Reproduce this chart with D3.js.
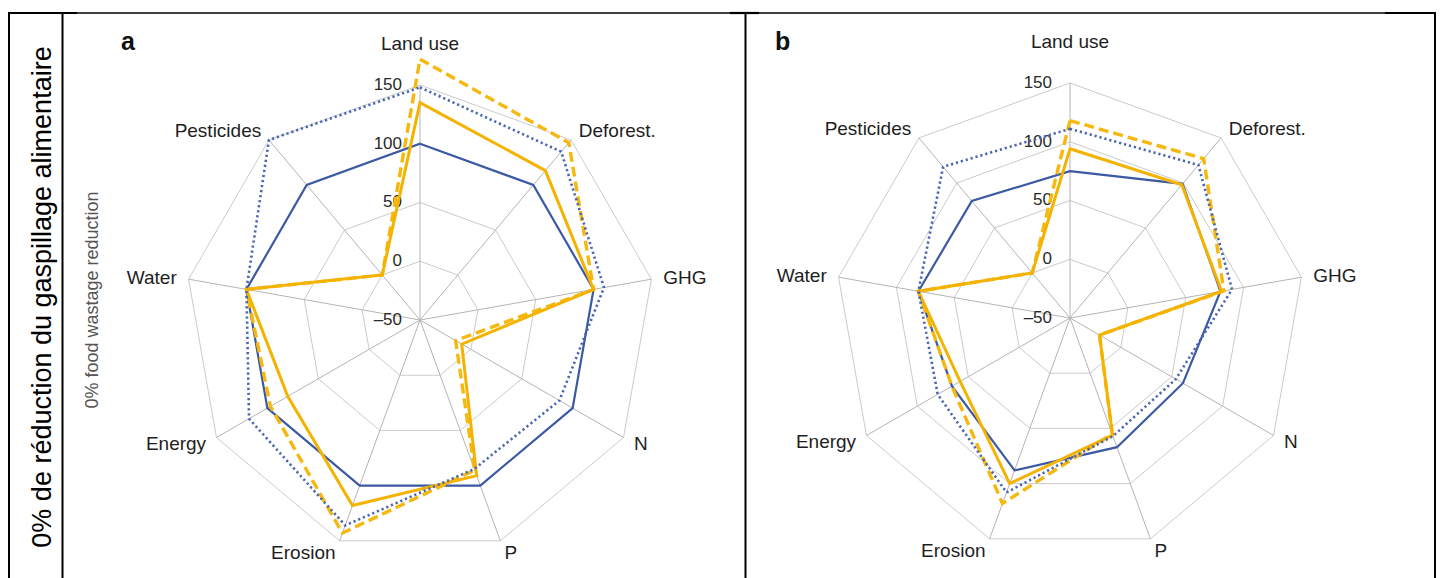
<!DOCTYPE html>
<html><head><meta charset="utf-8">
<script src="https://cdn.jsdelivr.net/npm/d3@7"></script>
<style>html,body{margin:0;padding:0;background:#fff;} svg{display:block;}</style>
</head><body>
<svg id="chart" width="1440" height="578"></svg>
<script>
// ---- data ----
const axes = ["Land use","Deforest.","GHG","N","P","Erosion","Energy","Water","Pesticides"];
const tickValues = [-50, 0, 50, 100, 150];
const tickLabels = ["\u201350", "0", "50", "100", "150"];
const ringValues = [0, 50, 100, 150];

// panel a
const blueSolidA   = [100, 100, 100, 100, 100, 100, 100, 100, 100];
const blueDottedA  = [148, 137, 109, 87, 85, 136, 118, 100, 150];
const yellowSolidA = [135, 116, 100, -9, 91, 118, 80, 100, 0];
const yellowDashedA= [172, 147, 100, -15, 86, 143, 97, 100, 0];
// panel b
const blueSolidB   = [75, 99, 80, 61, 67, 88, 66, 81, 80];
const blueDottedB  = [111, 120, 90, 54, 57, 108, 80, 81, 118];
const yellowSolidB = [94, 98, 81, -21, 56, 100, 58, 81, 0];
const yellowDashedB= [118, 127, 83, -21, 55, 118, 66, 81, 0];

const panelLetters = ["a", "b"];
const sideLabel = "0% de réduction du gaspillage alimentaire";
const yAxisTitle = "0% food wastage reduction";

// ---- drawing ----
const svg = d3.select("#chart");
const FONT = "'Liberation Sans', Arial, Helvetica, sans-serif";
const R = 235;
const r = d3.scaleLinear().domain([-50, 150]).range([0, R]);
const ang = d3.scaleLinear().domain([0, axes.length]).range([0, 2 * Math.PI]);

const styles = {
  blueSolid:   {color: "#3b5aa3", width: 2.2, dash: null},
  yellowDashed:{color: "#f6b80f", width: 3.4, dash: "10 5"},
  yellowSolid: {color: "#f4b300", width: 3.0, dash: null},
  blueDotted:  {color: "#4a66b0", width: 2.6, dash: "2.2 2.9"}
};

function drawRadar(cx, cy, series, letter, letterX, withTitle) {
  const g = svg.append("g").attr("transform", `translate(${cx},${cy})`);
  // rings
  const ringLine = d3.lineRadial().angle((d, i) => ang(i)).radius(d => r(d)).curve(d3.curveLinearClosed);
  ringValues.forEach(v => {
    g.append("path").attr("d", ringLine(axes.map(() => v)))
      .attr("fill", "none").attr("stroke", "#cbcbcb").attr("stroke-width", 1);
  });
  // spokes
  axes.forEach((a, i) => {
    const t = ang(i);
    g.append("line").attr("x1", 0).attr("y1", 0)
      .attr("x2", R * Math.sin(t)).attr("y2", -R * Math.cos(t))
      .attr("stroke", "#b4b4b4").attr("stroke-width", 1);
  });
  // axis labels
  axes.forEach((a, i) => {
    const t = ang(i);
    const s = Math.sin(t);
    const off = Math.abs(s) < 0.1 ? 42 : 12;
    const rr = R + off;
    g.append("text")
      .attr("x", rr * s).attr("y", -rr * Math.cos(t))
      .attr("dy", "0.35em")
      .attr("text-anchor", s > 0.1 ? "start" : (s < -0.1 ? "end" : "middle"))
      .attr("font-family", FONT).attr("font-size", 19).attr("fill", "#1e1e1e")
      .text(a);
  });
  // tick labels
  tickValues.forEach((v, i) => {
    g.append("text").attr("x", -18).attr("y", -r(v) - 1)
      .attr("dy", "0.35em").attr("text-anchor", "end")
      .attr("font-family", FONT).attr("font-size", 17).attr("fill", "#2a2a2a")
      .text(tickLabels[i]);
  });
  // series
  const line = d3.lineRadial().angle((d, i) => ang(i)).radius(d => r(d)).curve(d3.curveLinearClosed);
  series.forEach(s => {
    const st = styles[s.style];
    const p = g.append("path").attr("d", line(s.values))
      .attr("fill", "none").attr("stroke", st.color).attr("stroke-width", st.width)
      .attr("stroke-linejoin", "miter");
    if (st.dash) p.attr("stroke-dasharray", st.dash);
  });
  // panel letter
  svg.append("text").attr("x", letterX).attr("y", 50)
    .attr("font-family", FONT).attr("font-weight", "bold").attr("font-size", 25)
    .attr("fill", "#111").text(letter);
  if (withTitle) {
    svg.append("text")
      .attr("transform", `translate(98,300) rotate(-90)`)
      .attr("text-anchor", "middle")
      .attr("font-family", FONT).attr("font-size", 18).attr("fill", "#555")
      .text(yAxisTitle);
  }
}

drawRadar(420, 320, [
  {values: blueSolidA, style: "blueSolid"},
  {values: yellowDashedA, style: "yellowDashed"},
  {values: yellowSolidA, style: "yellowSolid"},
  {values: blueDottedA, style: "blueDotted"}
], panelLetters[0], 121, true);

drawRadar(1070, 318, [
  {values: blueSolidB, style: "blueSolid"},
  {values: yellowDashedB, style: "yellowDashed"},
  {values: yellowSolidB, style: "yellowSolid"},
  {values: blueDottedB, style: "blueDotted"}
], panelLetters[1], 775, false);

// table frame
const frame = svg.append("g").attr("stroke", "#000");
frame.append("line").attr("x1", 9).attr("x2", 1436).attr("y1", 13).attr("y2", 13).attr("stroke-width", 1.3);
[[9, 77], [730, 759], [1385, 1436]].forEach(([a, b]) => {
  frame.append("line").attr("x1", a).attr("x2", b).attr("y1", 13).attr("y2", 13).attr("stroke-width", 2.2);
});
[9, 62.5, 745.5, 1435].forEach(x => {
  frame.append("line").attr("x1", x).attr("x2", x).attr("y1", 12).attr("y2", 578).attr("stroke-width", 2);
});
// side label
svg.append("text")
  .attr("transform", "translate(51,297) rotate(-90)")
  .attr("text-anchor", "middle")
  .attr("font-family", FONT).attr("font-size", 27).attr("fill", "#000")
  .text(sideLabel);
</script>
</body></html>
